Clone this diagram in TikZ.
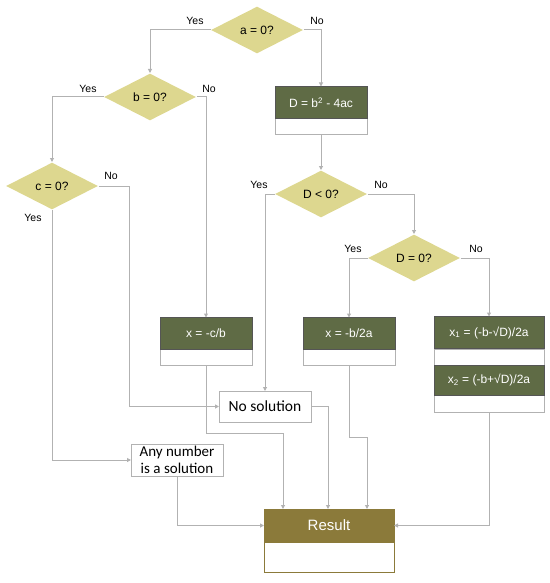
\documentclass[tikz,border=0pt]{standalone}
\usepackage{fontspec}
\setmainfont{Liberation Sans}
\newfontfamily\calib{Carlito}
\usetikzlibrary{shapes.geometric,arrows.meta}

\definecolor{askfill}{RGB}{221,215,143}
\definecolor{calcfill}{RGB}{95,107,69}
\definecolor{resfill}{RGB}{139,122,58}
\definecolor{wire}{RGB}{178,178,178}
\definecolor{edge}{RGB}{85,85,85}

\tikzset{
  ask/.style={diamond, fill=askfill, inner sep=0pt, minimum width=92pt, minimum height=47pt, font=\fontsize{12}{14}\selectfont},
  stephead/.style={rectangle, draw=edge, fill=calcfill, text=white, outer sep=0pt, minimum height=32pt, font=\fontsize{12}{14}\selectfont},
  stepfoot/.style={rectangle, draw=wire, fill=white, outer sep=0pt, minimum height=16pt, anchor=north},
  endbox/.style={rectangle, draw=wire, fill=white, outer sep=0pt, minimum width=92pt, minimum height=31pt, font=\calib\fontsize{15.5}{17}\selectfont},
  flow/.style={draw=wire, line width=1pt, -{Triangle[length=4pt,width=4pt]}},
  lab/.style={font=\fontsize{10.5}{12}\selectfont}
}

\begin{document}
\begin{tikzpicture}[x=1pt,y=-1pt,line width=1pt]
\useasboundingbox (0,0) rectangle (549,583);

\node[ask] (a) at (257,30) {a = 0?};
\node[ask] (b) at (150,97) {b = 0?};
\node[ask] (c) at (52,186) {c = 0?};
\node[ask] (dl) at (321,194) {D \textless{} 0?};
\node[ask] (dz) at (414,258) {D = 0?};

\node[stepfoot, minimum width=92pt] (discb) at (321,118) {};
\node[stephead, minimum width=92pt] (disc) at (321,102.5) {D = b\textsuperscript{2} - 4ac};
\node[stepfoot, minimum width=92pt] (xcbb) at (206,349) {};
\node[stephead, minimum width=92pt] (xcb) at (206,333.5) {x = -c/b};
\node[stepfoot, minimum width=92pt] (xb2ab) at (349,349) {};
\node[stephead, minimum width=92pt] (xb2a) at (349,333.5) {x = -b/2a};
\node[stepfoot, minimum width=110pt] (x1b) at (489,349) {};
\node[stephead, minimum width=110pt] (x1) at (489,332.5) {x\textsubscript{1} = (-b-√D)/2a};
\node[stepfoot, minimum width=110pt, minimum height=17pt] (x2b) at (489,395) {};
\node[stephead, minimum width=110pt, minimum height=30pt] (x2) at (489,380) {x\textsubscript{2} = (-b+√D)/2a};

\node[endbox] (nosol) at (265,406.5) {No solution};
\node[endbox, minimum height=32pt, align=center, inner sep=1pt, font=\calib\fontsize{15}{17}\selectfont] (anynum) at (177,460) {Any number\\is a solution};

\node[stepfoot, draw=resfill, minimum width=130pt, minimum height=30pt] (resb) at (329,542) {};
\node[stephead, draw=resfill, fill=resfill, minimum width=130pt, minimum height=33pt, font=\fontsize{15}{17}\selectfont] (res) at (329,525.5) {Result};

\draw[flow] (a.west) -| (b.north);
\draw[flow] (a.east) -| (disc.north);
\draw[flow] (discb.south) -- (dl.north);
\draw[flow] (b.west) -| (c.north);
\draw[flow] (b.east) -| (xcb.north);
\draw[flow] (c.east) -- ++(31,0) |- (nosol.west);
\draw[flow] (c.south) |- (anynum.west);
\draw[flow] (dl.west) -| (nosol.north);
\draw[flow] (dl.east) -| (dz.north);
\draw[flow] (dz.west) -| (xb2a.north);
\draw[flow] (dz.east) -| (x1.north);
\draw[flow] (xcbb.south) -- ++(0,68) -| ([xshift=-46pt]res.north);
\draw[flow] (nosol.east) -| ([xshift=-1pt]res.north);
\draw[flow] (xb2ab.south) -- ++(0,72) -| ([xshift=38pt]res.north);
\draw[flow] (x2b.south) |- (res.east);
\draw[flow] (anynum.south) |- (res.west);

\node[lab] at (195,21) {Yes};
\node[lab] at (317,21) {No};
\node[lab] at (88,89) {Yes};
\node[lab] at (209,89) {No};
\node[lab] at (111,176) {No};
\node[lab] at (33,218) {Yes};
\node[lab] at (259,185) {Yes};
\node[lab] at (381,185) {No};
\node[lab] at (353,249) {Yes};
\node[lab] at (476,249) {No};
\end{tikzpicture}
\end{document}
